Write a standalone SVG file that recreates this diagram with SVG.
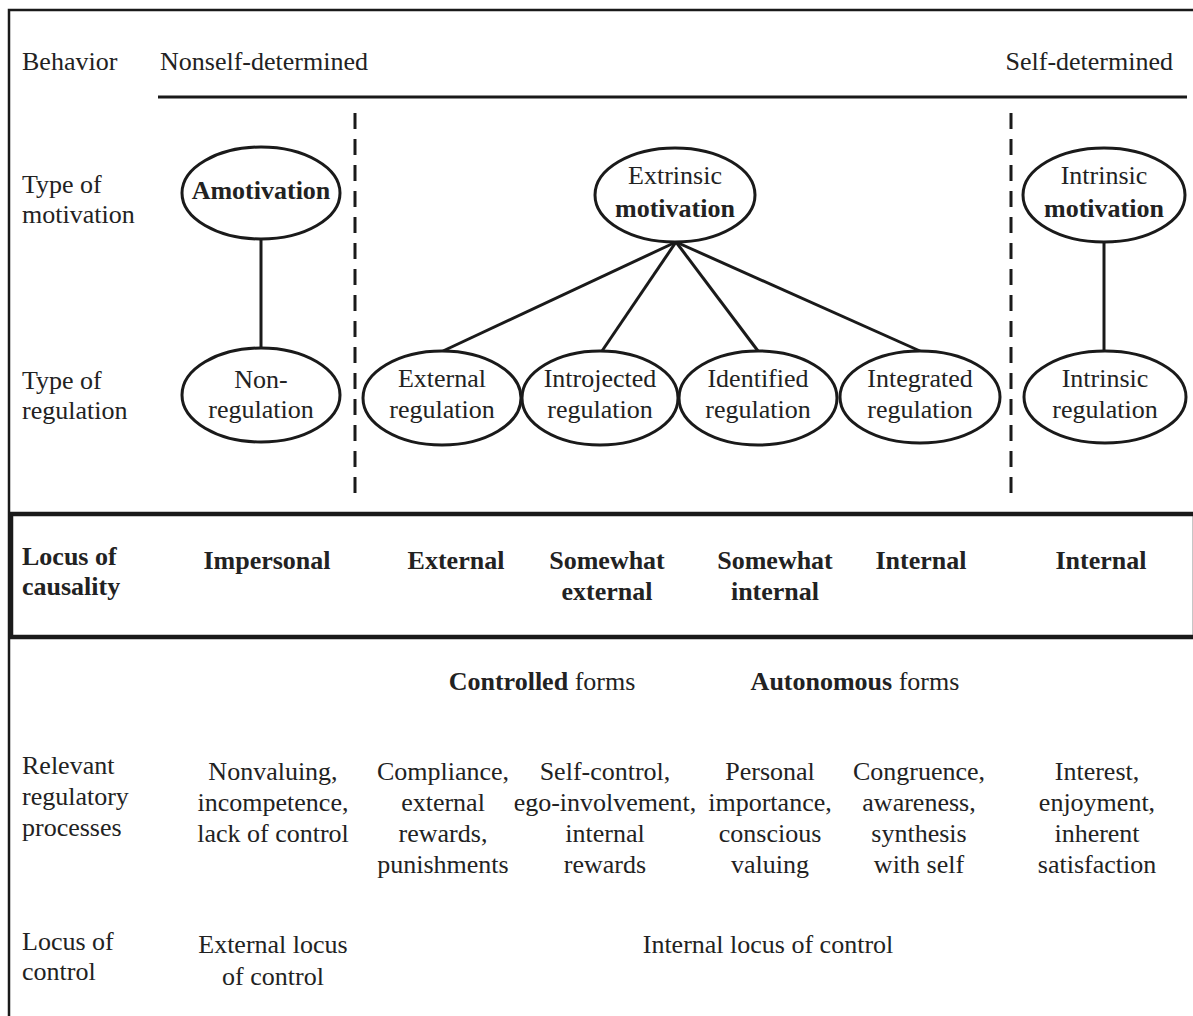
<svg xmlns="http://www.w3.org/2000/svg" width="1193" height="1016" viewBox="0 0 1193 1016" font-family="'Times New Roman', 'Liberation Serif', Tinos, 'Noto Serif', 'DejaVu Serif', FreeSerif, serif">
  <style>
    text { font-family: 'Times New Roman', 'Liberation Serif', Tinos, 'Noto Serif', 'DejaVu Serif', FreeSerif, serif; font-size: 26px; fill: #222; }
    .b { font-weight: bold; }
    .c { text-anchor: middle; }
    .node ellipse { fill: #fff; stroke: #1a1a1a; stroke-width: 3; }
    .link { stroke: #1a1a1a; stroke-width: 3; fill: none; }
    .dash { stroke: #1a1a1a; stroke-width: 3; stroke-dasharray: 16 10; fill: none; }
    .frame { stroke: #1a1a1a; fill: none; }
  </style>

  <rect width="1193" height="1016" fill="#fff"/>

  <!-- outer frame -->
  <path class="frame" stroke-width="2.5" d="M9 1016 V10 H1193"/>
  <!-- behaviour axis -->
  <line class="frame" stroke-width="3" x1="158" y1="97" x2="1187" y2="97"/>
  <!-- locus of causality band -->
  <rect class="frame" stroke-width="4.5" x="11" y="514" width="1184" height="123"/>

  <!-- row labels -->
  <text x="22" y="70">Behavior</text>
  <text x="160" y="70">Nonself-determined</text>
  <text x="1173" y="70" text-anchor="end">Self-determined</text>

  <text x="22" y="193">Type of</text>
  <text x="22" y="223">motivation</text>
  <text x="22" y="389">Type of</text>
  <text x="22" y="419">regulation</text>

  <text class="b" x="22" y="565">Locus of</text>
  <text class="b" x="22" y="595">causality</text>

  <text x="22" y="774">Relevant</text>
  <text x="22" y="805">regulatory</text>
  <text x="22" y="836">processes</text>

  <text x="22" y="950">Locus of</text>
  <text x="22" y="980">control</text>

  <!-- connectors -->
  <g id="connectors">
    <line class="dash" x1="355" y1="113" x2="355" y2="497"/>
    <line class="dash" x1="1011" y1="113" x2="1011" y2="497"/>
    <line class="link" x1="261" y1="239" x2="261" y2="348"/>
    <line class="link" x1="676" y1="242" x2="443" y2="351"/>
    <line class="link" x1="676" y1="242" x2="602" y2="351"/>
    <line class="link" x1="676" y1="242" x2="758" y2="351"/>
    <line class="link" x1="676" y1="242" x2="920" y2="351"/>
    <line class="link" x1="1104" y1="242" x2="1104" y2="351"/>
  </g>

  <!-- motivation nodes -->
  <g id="amotivation" class="node">
    <ellipse cx="261" cy="193" rx="79" ry="46"/>
    <text class="b c" x="261" y="199">Amotivation</text>
  </g>
  <g id="extrinsic-motivation" class="node">
    <ellipse cx="675" cy="195" rx="80" ry="47"/>
    <text class="c" x="675" y="184">Extrinsic</text>
    <text class="b c" x="675" y="217">motivation</text>
  </g>
  <g id="intrinsic-motivation" class="node">
    <ellipse cx="1104" cy="195" rx="81" ry="47"/>
    <text class="c" x="1104" y="184">Intrinsic</text>
    <text class="b c" x="1104" y="217">motivation</text>
  </g>

  <!-- regulation nodes -->
  <g id="non-regulation" class="node">
    <ellipse cx="261" cy="395" rx="79" ry="47"/>
    <text class="c" x="261" y="388">Non-</text>
    <text class="c" x="261" y="418">regulation</text>
  </g>
  <g id="external-regulation" class="node">
    <ellipse cx="442" cy="398" rx="79" ry="47"/>
    <text class="c" x="442" y="387">External</text>
    <text class="c" x="442" y="418">regulation</text>
  </g>
  <g id="introjected-regulation" class="node">
    <ellipse cx="600" cy="398" rx="78" ry="47"/>
    <text class="c" x="600" y="387">Introjected</text>
    <text class="c" x="600" y="418">regulation</text>
  </g>
  <g id="identified-regulation" class="node">
    <ellipse cx="758" cy="398" rx="79" ry="47"/>
    <text class="c" x="758" y="387">Identified</text>
    <text class="c" x="758" y="418">regulation</text>
  </g>
  <g id="integrated-regulation" class="node">
    <ellipse cx="920" cy="397" rx="80" ry="46"/>
    <text class="c" x="920" y="387">Integrated</text>
    <text class="c" x="920" y="418">regulation</text>
  </g>
  <g id="intrinsic-regulation" class="node">
    <ellipse cx="1105" cy="397" rx="81" ry="46"/>
    <text class="c" x="1105" y="387">Intrinsic</text>
    <text class="c" x="1105" y="418">regulation</text>
  </g>

  <!-- locus of causality -->
  <text class="b c" x="267" y="569">Impersonal</text>
  <text class="b c" x="456" y="569">External</text>
  <text class="b c" x="607" y="569">Somewhat</text>
  <text class="b c" x="607" y="600">external</text>
  <text class="b c" x="775" y="569">Somewhat</text>
  <text class="b c" x="775" y="600">internal</text>
  <text class="b c" x="921" y="569">Internal</text>
  <text class="b c" x="1101" y="569">Internal</text>

  <!-- controlled / autonomous -->
  <text class="c" x="542" y="690"><tspan class="b">Controlled</tspan> forms</text>
  <text class="c" x="855" y="690"><tspan class="b">Autonomous</tspan> forms</text>

  <!-- regulatory processes -->
  <text class="c" x="273" y="780">Nonvaluing,</text>
  <text class="c" x="273" y="811">incompetence,</text>
  <text class="c" x="273" y="842">lack of control</text>

  <text class="c" x="443" y="780">Compliance,</text>
  <text class="c" x="443" y="811">external</text>
  <text class="c" x="443" y="842">rewards,</text>
  <text class="c" x="443" y="873">punishments</text>

  <text class="c" x="605" y="780">Self-control,</text>
  <text class="c" x="605" y="811">ego-involvement,</text>
  <text class="c" x="605" y="842">internal</text>
  <text class="c" x="605" y="873">rewards</text>

  <text class="c" x="770" y="780">Personal</text>
  <text class="c" x="770" y="811">importance,</text>
  <text class="c" x="770" y="842">conscious</text>
  <text class="c" x="770" y="873">valuing</text>

  <text class="c" x="919" y="780">Congruence,</text>
  <text class="c" x="919" y="811">awareness,</text>
  <text class="c" x="919" y="842">synthesis</text>
  <text class="c" x="919" y="873">with self</text>

  <text class="c" x="1097" y="780">Interest,</text>
  <text class="c" x="1097" y="811">enjoyment,</text>
  <text class="c" x="1097" y="842">inherent</text>
  <text class="c" x="1097" y="873">satisfaction</text>

  <!-- locus of control -->
  <text class="c" x="273" y="953">External locus</text>
  <text class="c" x="273" y="985">of control</text>
  <text class="c" x="768" y="953">Internal locus of control</text>
</svg>
